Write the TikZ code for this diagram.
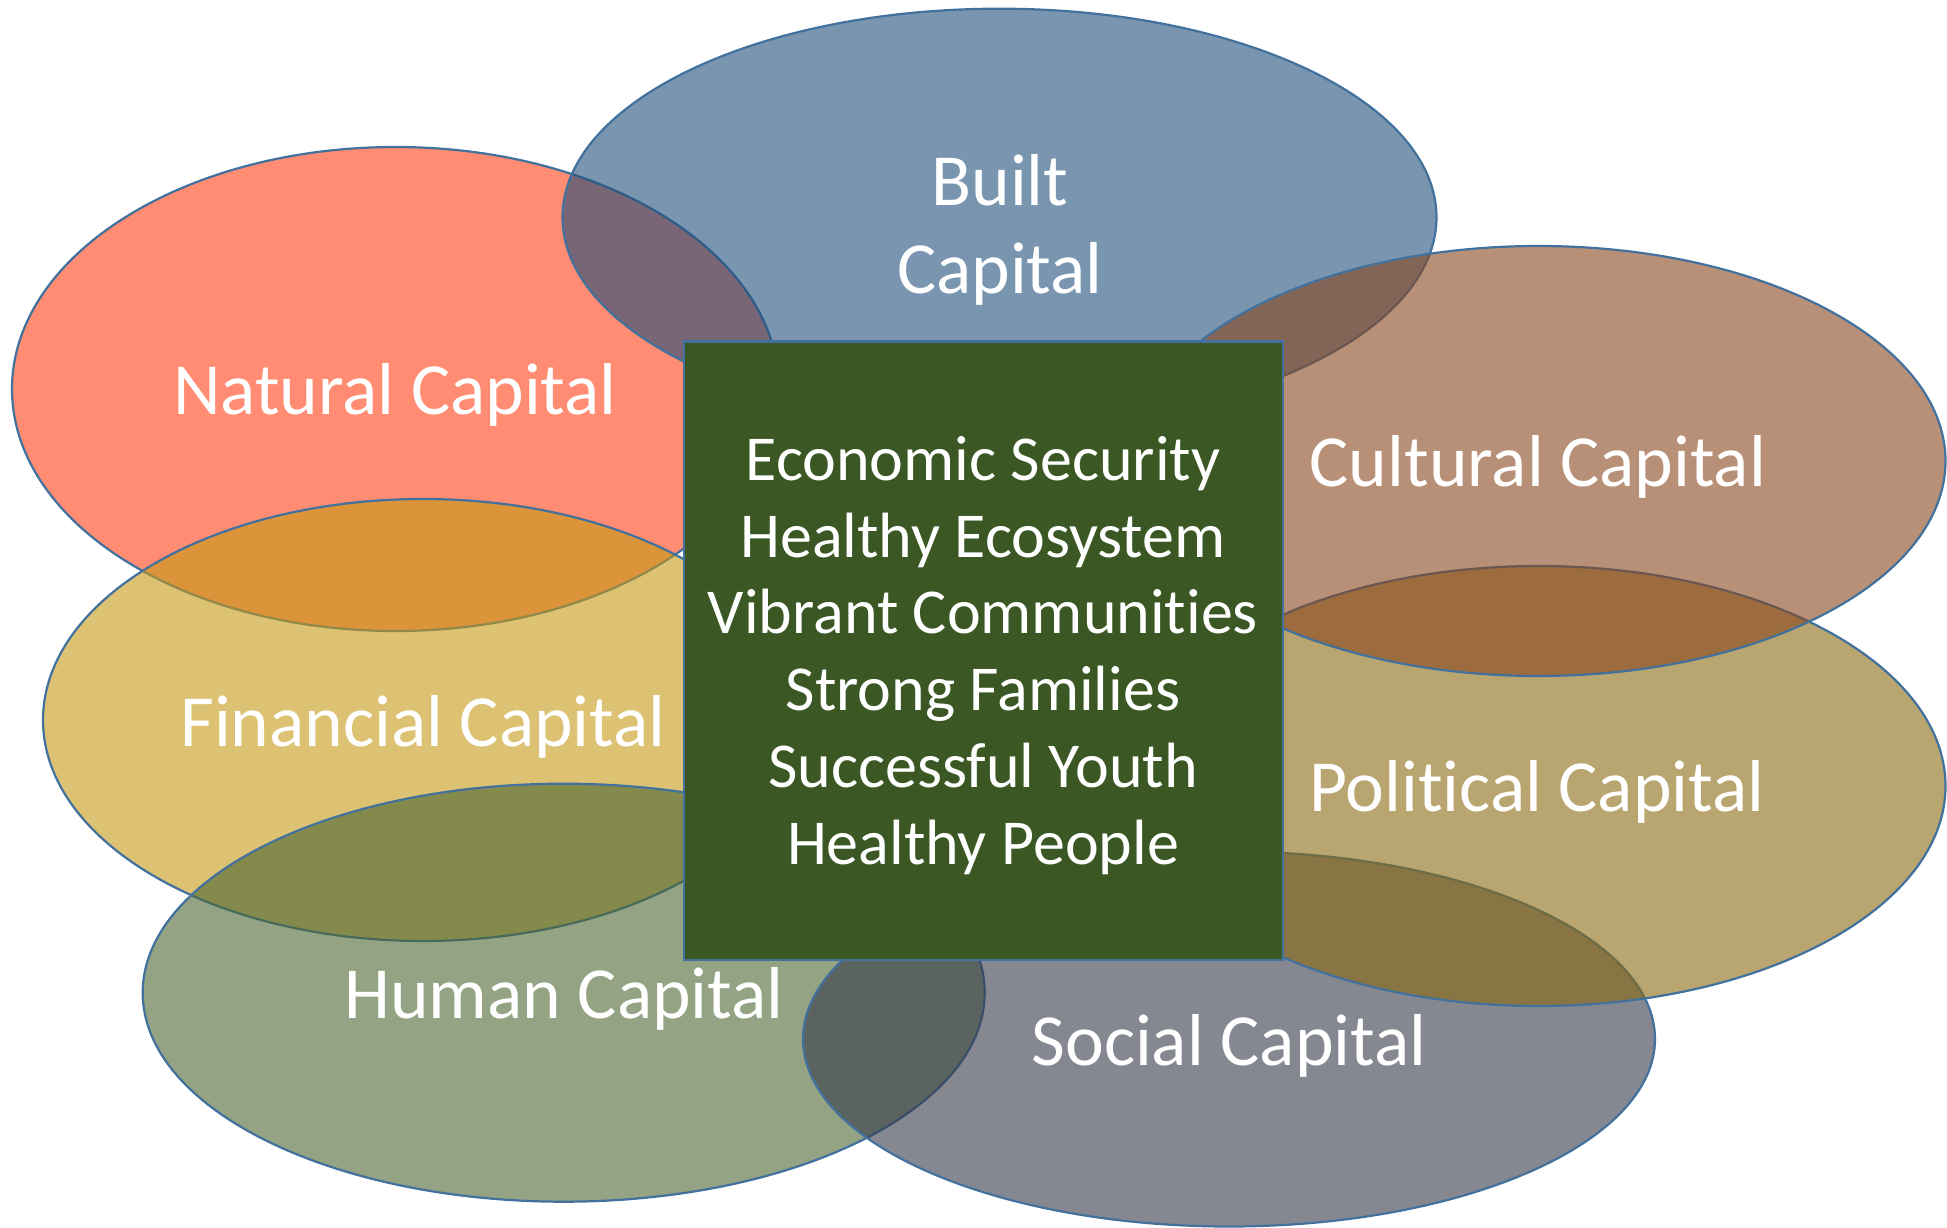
\documentclass[tikz,border=0pt]{standalone}
\usepackage{fontspec}
\setmainfont[Ligatures=NoCommon]{Carlito}
\definecolor{edgeblue}{RGB}{65,113,156}
\definecolor{natural}{RGB}{255,63,22}
\definecolor{built}{RGB}{31,78,121}
\definecolor{cultural}{RGB}{137,70,30}
\definecolor{financial}{RGB}{197,153,20}
\definecolor{political}{RGB}{138,105,15}
\definecolor{human}{RGB}{75,102,48}
\definecolor{social}{RGB}{52,57,72}
\definecolor{core}{RGB}{58,87,36}
\begin{document}
\begin{tikzpicture}[x=1pt,y=-1pt,
  capital/.style={draw=edgeblue, line width=2.2pt, fill opacity=0.6, draw opacity=1},
  lbl/.style={text=white, anchor=base, align=center, inner sep=0pt,
              font=\fontsize{73.5}{88}\selectfont},
  corebox/.style={draw=edgeblue, line width=2.2pt, fill=core},
  goals/.style={text=white, anchor=base, align=center, inner sep=0pt,
                font=\fontsize{64}{76.7}\selectfont}]
\useasboundingbox (0,0) rectangle (1947,1228);

% the seven capitals, back to front
\path[capital, fill=natural]   (395.5,389)  ellipse [x radius=383.5pt, y radius=242pt];
\path[capital, fill=built]     (999.5,217.3) ellipse [x radius=437pt, y radius=208.6pt];
\path[capital, fill=financial] (423,720)    ellipse [x radius=380pt, y radius=221pt];
\path[capital, fill=human]     (563.7,992.7) ellipse [x radius=421pt, y radius=209pt];
\path[capital, fill=social]    (1229,1039)  ellipse [x radius=426pt, y radius=187.5pt];
\path[capital, fill=political] (1538.5,786) ellipse [x radius=407pt, y radius=220pt];
\path[capital, fill=cultural]  (1538.5,461) ellipse [x radius=407pt, y radius=215pt];

% labels (multi-line nodes sit on their last baseline)
\node[lbl] (naturalL)   at (395,414)   {Natural Capital};
\node[lbl] (builtL)     at (1000,293)  {Built\\Capital};
\node[lbl] (culturalL)  at (1538,486)  {Cultural Capital};
\node[lbl] (financialL) at (423,746)   {Financial Capital};
\node[lbl] (politicalL) at (1537,811)  {Political Capital};
\node[lbl] (humanL)     at (564,1018)  {Human Capital};
\node[lbl] (socialL)    at (1229,1065) {Social Capital};

% central outcomes box
\path[corebox] (684,341.5) rectangle (1283,960);
\node[goals] (outcomes) at (983,864) {Economic Security\\Healthy Ecosystem\\Vibrant Communities\\Strong Families\\Successful Youth\\Healthy People};
\end{tikzpicture}
\end{document}
